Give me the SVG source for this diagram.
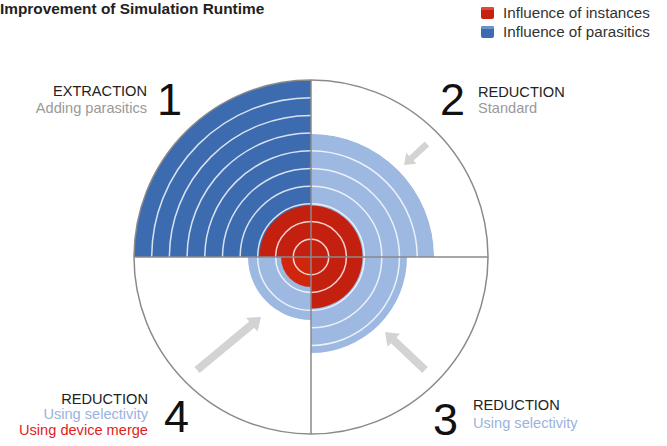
<svg xmlns="http://www.w3.org/2000/svg" width="667" height="446" viewBox="0 0 667 446">
<style>
text{font-family:"Liberation Sans",Arial,sans-serif}
.lbl{font-size:14.6px;fill:#222}
.sub{font-size:14.6px;fill:#999}
.sel{font-size:14.6px;fill:#9ab3dd}
.mrg{font-size:14.6px;fill:#e0221a}
.num{font-size:45px;fill:#111}
.leg{font-size:15.2px;fill:#333}
.dark{fill:#3c6bb0}
.light{fill:#9db8e1}
.red{fill:#c4200f}
.ring{fill:none;stroke:#fff;stroke-opacity:0.8;stroke-width:1.5}
.axis{fill:none;stroke:#8a8a8a;stroke-width:1.5}
.arrow{fill:#d3d3d3}
</style>
<rect width="667" height="446" fill="#fff"/>
<g id="title"><text x="0" y="14" style="font-size:15.4px;font-weight:bold;fill:#222">Improvement of Simulation Runtime</text></g>
<g id="legend">
<rect x="481" y="7" width="13" height="12" rx="2" fill="#c8200e"/>
<rect x="481" y="7" width="13" height="3" rx="1.5" fill="#e04a36"/>
<text class="leg" x="503" y="18">Influence of instances</text>
<rect x="481" y="26" width="13" height="12" rx="2" fill="#3c6bb0"/>
<rect x="481" y="26" width="13" height="3" rx="1.5" fill="#6a92cc"/>
<text class="leg" x="503" y="37">Influence of parasitics</text>
</g>
<g id="q1">
<path class="dark" d="M311,257 L134,257 A177,177 0 0 1 311,80 Z"/>
<path class="red" d="M311,257 L259.5,257 A51.5,51.5 0 0 1 311,205.5 Z"/>
<text class="lbl" x="147" y="96" text-anchor="end">EXTRACTION</text>
<text class="sub" x="147" y="113" text-anchor="end">Adding parasitics</text>
<text class="num" x="157" y="115">1</text>
</g>
<g id="q2">
<path class="light" d="M311,257 L311,134 A123,123 0 0 1 434,257 Z"/>
<path class="red" d="M311,257 L311,205.5 A51.5,51.5 0 0 1 362.5,257 Z"/>
<text class="num" x="440" y="115">2</text>
<text class="lbl" x="478" y="97">REDUCTION</text>
<text class="sub" x="478" y="113">Standard</text>
</g>
<g id="q3">
<path class="light" d="M311,257 L407,257 A96,96 0 0 1 311,353 Z"/>
<path class="red" d="M311,257 L362.5,257 A51.5,51.5 0 0 1 311,308.5 Z"/>
<text class="num" x="433" y="435">3</text>
<text class="lbl" x="473" y="410">REDUCTION</text>
<text class="sel" x="473" y="428">Using selectivity</text>
</g>
<g id="q4">
<path class="light" d="M311,257 L311,320 A63,63 0 0 1 248,257 Z"/>
<path class="red" d="M311,257 L311,287 A30,30 0 0 1 281,257 Z" style="fill:#cf260d"/>
<text class="num" x="164" y="432">4</text>
<text class="lbl" x="148" y="404" text-anchor="end">REDUCTION</text>
<text class="sel" x="148" y="419" text-anchor="end">Using selectivity</text>
<text class="mrg" x="148" y="435" text-anchor="end">Using device merge</text>
</g>
<g id="rings">
<circle class="ring" cx="311" cy="257" r="17.7"/>
<circle class="ring" cx="311" cy="257" r="35.4"/>
<circle class="ring" cx="311" cy="257" r="53.3"/>
<circle class="ring" cx="311" cy="257" r="70.8"/>
<circle class="ring" cx="311" cy="257" r="88.5"/>
<circle class="ring" cx="311" cy="257" r="106.2"/>
<circle class="ring" cx="311" cy="257" r="123.9"/>
<circle class="ring" cx="311" cy="257" r="141.6"/>
<circle class="ring" cx="311" cy="257" r="159.3"/>
</g>
<g id="axes">
<circle class="axis" cx="311" cy="257" r="177"/>
<line class="axis" x1="134" y1="257" x2="488" y2="257"/>
<line class="axis" x1="311" y1="80" x2="311" y2="434"/>
</g>
<g id="connectors">
<polygon class="arrow" points="424.8,141.6 409.2,155.9 406.3,152.7 404,165 416.5,163.8 413.6,160.6 429.2,146.4"/>
<polygon class="arrow" points="427.8,367.1 396.5,337.4 399.9,333.7 385,332 387.5,346.8 391,343.2 422.3,372.9"/>
<polygon class="arrow" points="199.6,373.1 254.3,327.7 257.5,331.6 261,317 246,317.7 249.2,321.6 194.5,366.9"/>
</g>
</svg>
